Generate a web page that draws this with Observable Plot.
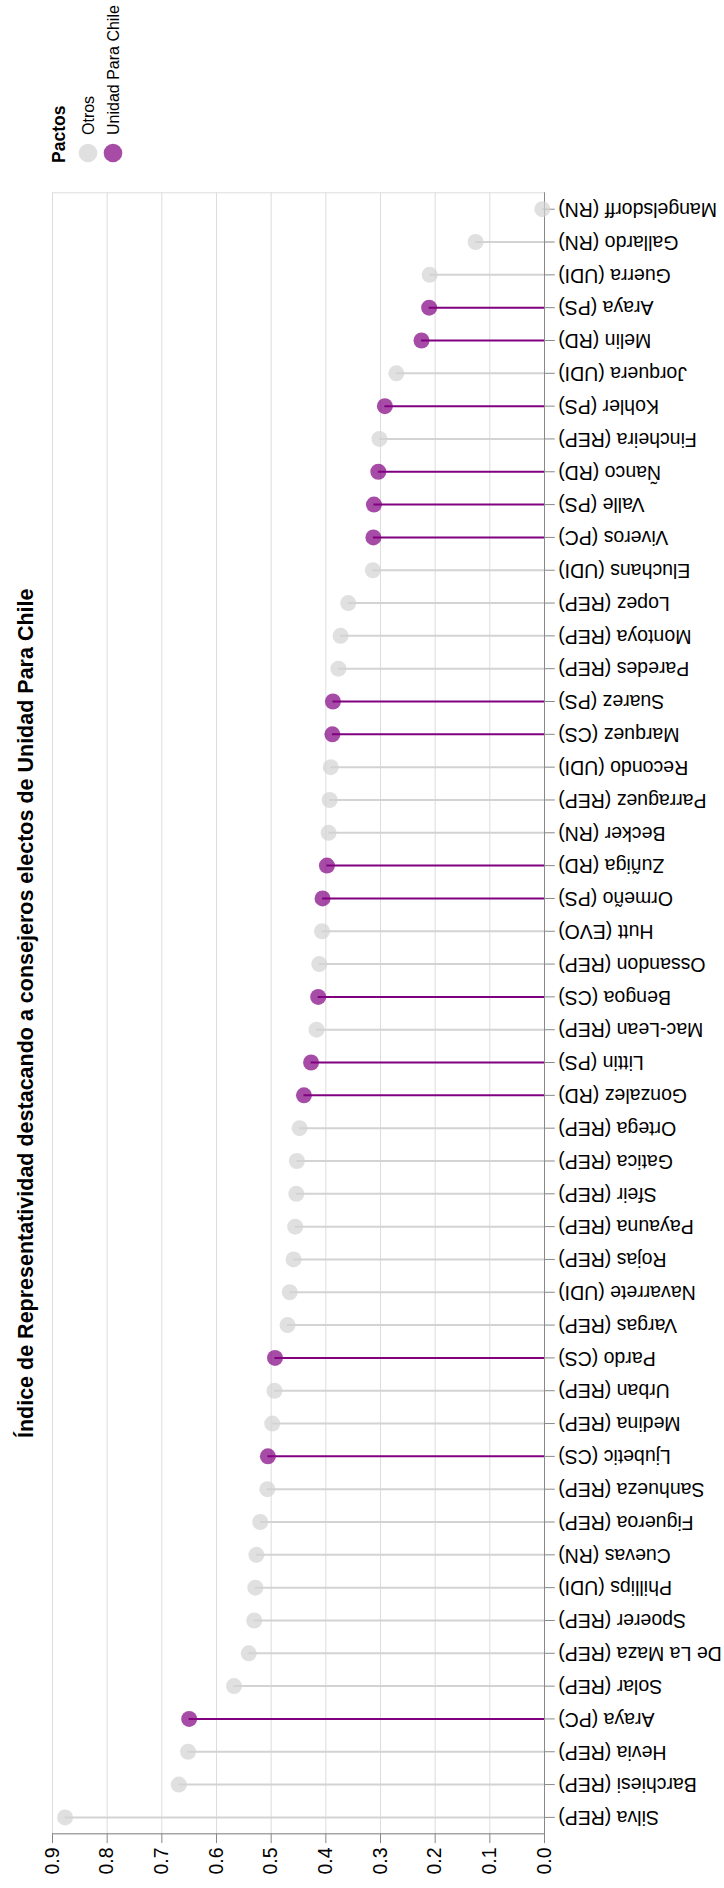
<!DOCTYPE html>
<html>
<head>
<meta charset="utf-8">
<script src="https://cdn.jsdelivr.net/npm/d3@7"></script>
<script src="https://cdn.jsdelivr.net/npm/@observablehq/plot@0.6"></script>
<style>
  html, body { margin: 0; padding: 0; background: #fff; }
  #chart { width: 724px; height: 1888px; }
</style>
</head>
<body>
<div id="chart"></div>
<script>
// ---- data (ordered from highest to lowest index) ----
const names = [
  "Silva (REP)", "Barchiesi (REP)", "Hevia (REP)", "Araya (PC)", "Solar (REP)",
  "De La Maza (REP)", "Spoerer (REP)", "Phillips (UDI)", "Cuevas (RN)", "Figueroa (REP)",
  "Sanhueza (REP)", "Ljubetic (CS)", "Medina (REP)", "Urban (REP)", "Pardo (CS)",
  "Vargas (REP)", "Navarrete (UDI)", "Rojas (REP)", "Payauna (REP)", "Sfeir (REP)",
  "Gatica (REP)", "Ortega (REP)", "Gonzalez (RD)", "Littin (PS)", "Mac-Lean (REP)",
  "Bengoa (CS)", "Ossandon (REP)", "Hutt (EVO)", "Ormeño (PS)", "Zuñiga (RD)",
  "Becker (RN)", "Parraguez (REP)", "Recondo (UDI)", "Marquez (CS)", "Suarez (PS)",
  "Paredes (REP)", "Montoya (REP)", "Lopez (REP)", "Eluchans (UDI)", "Viveros (PC)",
  "Valle (PS)", "Ñanco (RD)", "Fincheira (REP)", "Kohler (PS)", "Jorquera (UDI)",
  "Melin (RD)", "Araya (PS)", "Guerra (UDI)", "Gallardo (RN)", "Mangelsdorff (RN)"
];
const values = [
  0.877, 0.669, 0.652, 0.650, 0.568,
  0.541, 0.531, 0.529, 0.527, 0.520,
  0.507, 0.506, 0.498, 0.494, 0.493,
  0.470, 0.466, 0.459, 0.456, 0.454,
  0.453, 0.448, 0.440, 0.427, 0.417,
  0.414, 0.412, 0.407, 0.406, 0.398,
  0.395, 0.393, 0.391, 0.388, 0.387,
  0.377, 0.373, 0.359, 0.314, 0.313,
  0.312, 0.304, 0.302, 0.292, 0.271,
  0.225, 0.211, 0.210, 0.126, 0.004
];
const U = "Unidad Para Chile", O = "Otros";
const pactos = [
  O, O, O, U, O,
  O, O, O, O, O,
  O, U, O, O, U,
  O, O, O, O, O,
  O, O, U, U, O,
  U, O, O, U, U,
  O, O, O, U, U,
  O, O, O, O, U,
  U, U, O, U, O,
  U, U, O, O, O
];
const pactoDomain = ["Otros", "Unidad Para Chile"];
const pactoColors = ["#d3d3d3", "#800080"];
const xTicks = [0, 0.1, 0.2, 0.3, 0.4, 0.5, 0.6, 0.7, 0.8, 0.9];
const titleText = "Índice de Representatividad destacando a consejeros electos de Unidad Para Chile";
const legendTitle = "Pactos";

const data = names.map((name, i) => ({name, value: values[i], pacto: pactos[i]}));

const FONT = "'Liberation Sans', Arial, Helvetica, sans-serif";

const chart = Plot.plot({
  width: 724,
  height: 1888,
  marginTop: 192.3,
  marginBottom: 54.7,
  marginLeft: 52,
  marginRight: 180,
  style: {fontFamily: FONT, background: "#fff", color: "#000", overflow: "visible"},
  x: {domain: [0, 0.9], reverse: true},
  y: {type: "point", domain: names.slice().reverse(), padding: 0.5},
  color: {domain: pactoDomain, range: pactoColors},
  marks: [
    Plot.gridX(xTicks, {stroke: "#ddd", strokeOpacity: 1, strokeWidth: 1}),
    Plot.frame({stroke: "#ddd"}),
    Plot.axisX(xTicks, {
      anchor: "bottom", tickSize: 9.75, tickPadding: 3.9, tickRotate: -90,
      tickFormat: d3.format(".1f"), fontSize: 19.5, stroke: "#888", fill: "#000", label: null
    }),
    Plot.axisY({
      anchor: "right", tickSize: 9.75, tickPadding: 3.9, tickRotate: 180,
      textAnchor: "end", lineAnchor: "middle", fontSize: 19.5,
      stroke: "#888", fill: "#000", label: null
    }),
    Plot.frame({anchor: "bottom", stroke: "#888"}),
    Plot.ruleX([0], {stroke: "#888"}),
    Plot.ruleY(data, {y: "name", x1: 0, x2: "value", stroke: "pacto", strokeWidth: 2}),
    Plot.dot(data, {x: "value", y: "name", fill: "pacto", fillOpacity: 0.7, r: 8}),
    Plot.text([titleText], {
      frameAnchor: "left", textAnchor: "middle", dx: -26, rotate: -90, fontSize: 21.5,
      fontWeight: "bold", fill: "#000"
    })
  ]
});

// ---- legend (rotated like the rest of the chart) ----
const svg = d3.select(chart);
const lg = svg.append("g").attr("font-family", FONT).attr("text-anchor", "start");
lg.append("text")
  .attr("transform", "translate(58.5,163) rotate(-90)")
  .attr("text-anchor", "start")
  .attr("dy", "0.35em")
  .attr("font-size", 17.5)
  .attr("font-weight", "bold")
  .attr("fill", "#000")
  .text(legendTitle);
pactoDomain.forEach((p, i) => {
  const cx = 88 + i * 25;
  lg.append("circle")
    .attr("cx", cx).attr("cy", 153).attr("r", 9.3)
    .attr("fill", pactoColors[i]).attr("fill-opacity", 0.7);
  lg.append("text")
    .attr("transform", `translate(${cx},135) rotate(-90)`)
    .attr("text-anchor", "start")
    .attr("dy", "0.35em")
    .attr("font-size", 16)
    .attr("fill", "#000")
    .text(p);
});

document.getElementById("chart").appendChild(chart);
</script>
</body>
</html>
